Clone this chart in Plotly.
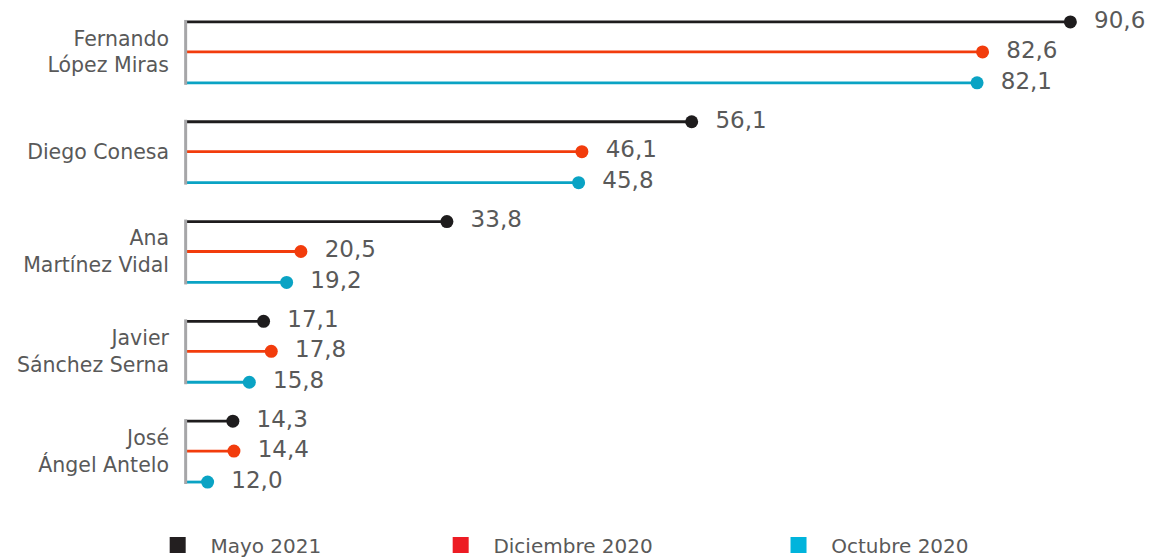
import plotly.graph_objects as go

# Datos
candidatos = ["Fernando<br>López Miras", "Diego Conesa", "Ana<br>Martínez Vidal",
              "Javier<br>Sánchez Serna", "José<br>Ángel Antelo"]
series = ["Mayo 2021", "Diciembre 2020", "Octubre 2020"]
mayo_2021 = [90.6, 56.1, 33.8, 17.1, 14.3]
dic_2020 = [82.6, 46.1, 20.5, 17.8, 14.4]
oct_2020 = [82.1, 45.8, 19.2, 15.8, 12.0]

valores = [mayo_2021, dic_2020, oct_2020]
colores_linea = ["#1e1c1d", "#f23c0c", "#0aa3c4"]
colores_leyenda = ["#231f20", "#ed1c24", "#00b4dc"]
desplaz = [-0.3, 0.0, 0.31]

x_ini = 10
fig = go.Figure()

for vals, col, d in zip(valores, colores_linea, desplaz):
    ys = [i + d for i in range(len(candidatos))]
    # palitos
    fig.add_trace(go.Bar(
        y=ys, x=[v - x_ini for v in vals], base=x_ini, orientation="h",
        width=0.028, marker_color=col, marker_line_width=0,
        showlegend=False, hoverinfo="skip"
    ))
    # puntos + etiquetas
    fig.add_trace(go.Scatter(
        y=ys, x=vals, mode="markers+text",
        marker=dict(color=col, size=13),
        text=["\u00a0\u00a0" + f"{v:.1f}".replace(".", ",") for v in vals],
        textposition="middle right",
        textfont=dict(size=23, color="#595959"),
        cliponaxis=False, showlegend=False
    ))

# líneas grises verticales por grupo
for i in range(len(candidatos)):
    fig.add_shape(type="line", xref="x", yref="y",
                  x0=x_ini, x1=x_ini, y0=i + desplaz[0] - 0.02, y1=i + desplaz[-1] + 0.02,
                  line=dict(color="#a6a6a8", width=3), layer="above")

# entradas de leyenda
pads = [18, 19, 0]
for nombre, col, p in zip(series, colores_leyenda, pads):
    fig.add_trace(go.Scatter(
        x=[None], y=[None], mode="markers",
        marker=dict(symbol="square", size=20, color=col),
        name="\u00a0\u00a0" + nombre + "\u00a0" * p
    ))

fig.update_layout(
    width=1151, height=559,
    margin=dict(l=184, r=51, t=2, b=58, autoexpand=False),
    plot_bgcolor="white", paper_bgcolor="white",
    font=dict(family="DejaVu Sans", color="#595959"),
    barmode="overlay",
    showlegend=True,
    legend=dict(orientation="h", xref="container", yref="container",
                x=0.137, xanchor="left", y=0.025, yanchor="middle",
                font=dict(size=20, color="#595959")),
    xaxis=dict(range=[9.85, 93.3], showgrid=False, zeroline=False,
               showticklabels=False, showline=False, automargin=False),
    yaxis=dict(range=[4.5, -0.5], tickvals=list(range(len(candidatos))),
               ticktext=candidatos, showgrid=False, zeroline=False, showline=False,
               tickfont=dict(size=20.5, color="#595959"), ticklabelstandoff=14,
               automargin=False),
)

fig.write_html("out.html", config={"displayModeBar": False},
               post_script="document.body.style.margin='0';")
